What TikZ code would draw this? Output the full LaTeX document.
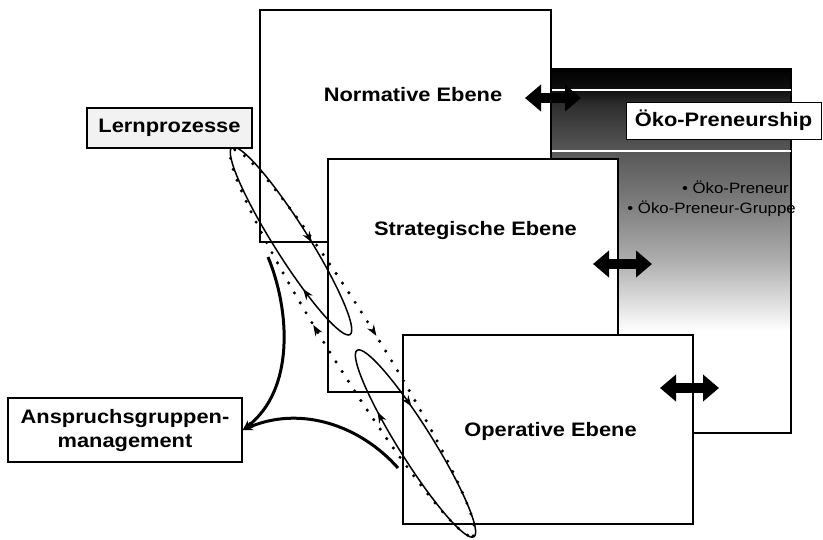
\documentclass[tikz,border=0pt]{standalone}
\usepackage{fontspec}
\setmainfont{Liberation Sans}[FakeStretch=1.12]
\usetikzlibrary{arrows.meta,decorations.markings}
\pgfdeclareverticalshading{panelshade}{100bp}{color(0bp)=(white); color(39bp)=(white); color(48.7bp)=(black!32); color(56.9bp)=(black!52); color(63.8bp)=(black!66); color(70bp)=(black!82); color(72bp)=(black!94); color(75bp)=(black); color(100bp)=(black)}
\tikzset{
  levelbox/.style={draw=black, fill=white, line width=1.4pt},
  lvltext/.style={font=\bfseries\fontsize{19.5}{23}\selectfont, inner sep=0pt},
  labelbox/.style={draw=black, line width=1.4pt, font=\bfseries\fontsize{19.5}{24}\selectfont, inner sep=0pt, align=center},
  bullettext/.style={font=\fontsize{15}{18}\selectfont, inner sep=0pt},
  dblarrow/.style={line width=10pt, {Triangle[length=16pt,width=26pt]}-{Triangle[length=16pt,width=26pt]}},
  ellipseline/.style={line width=1.5pt},
  dotring/.style={line width=3.4pt, line cap=round, dash pattern=on 0pt off 11.5pt},
  thickcurve/.style={line width=3pt, -{Stealth[length=10pt,width=9pt]}},
  looptip/.style={solid, line width=1pt},
}
\newcommand{\ltip}{Stealth[length=11pt,width=8pt]}
\begin{document}
\begin{tikzpicture}[x=1pt,y=-1pt]
\useasboundingbox (0,0) rectangle (823,539);
% background panel
\shade[shading=panelshade] (545,68) rectangle (791,433);
\draw[line width=1.4pt] (791,68) -- (791,433) -- (545,433);
\draw[white, line width=1.2pt] (551,90) -- (791,90);
\draw[white, line width=1.2pt] (551,151) -- (791,151);
\node[draw=black, fill=white, line width=1pt, minimum width=195pt, minimum height=37pt, inner sep=0pt,
      font=\bfseries\fontsize{19.5}{23}\selectfont] (oeko) at (723.5,120.5) {Öko-Preneurship};
\node[bullettext, anchor=base east] (b1) at (789,193) {• Öko-Preneur};
\node[bullettext, anchor=base east] (b2) at (796,213) {• Öko-Preneur-Gruppe};
% level boxes
\draw[levelbox] (260,10) rectangle (551,242);
\node[lvltext, anchor=base] (normtext) at (413,101) {Normative Ebene};
\draw[levelbox] (328,159) rectangle (618,392);
\node[lvltext, anchor=base] (strattext) at (475.5,235) {Strategische Ebene};
\draw[levelbox] (403,335) rectangle (693,524);
\node[lvltext, anchor=base] (opertext) at (550.5,436) {Operative Ebene};
% double arrows
\coordinate (n1) at (525,98); \coordinate (n2) at (581,98);
\coordinate (s1) at (593,264); \coordinate (s2) at (652,264);
\coordinate (o1) at (660,388); \coordinate (o2) at (719,388);
\draw[dblarrow] (n1) -- (n2);
\draw[dblarrow] (s1) -- (s2);
\draw[dblarrow] (o1) -- (o2);
% learning loops
\draw[ellipseline, rotate around={-57.75:(291,241)}, postaction={decorate},
  decoration={markings,
    mark=at position 0.223 with {\arrowreversed[looptip]{\ltip}},
    mark=at position 0.853 with {\arrowreversed[looptip]{\ltip}}}]
  (291,241) ellipse [x radius=110.6pt, y radius=17pt];
\draw[ellipseline, rotate around={-57.96:(415.5,443.5)}, postaction={decorate},
  decoration={markings,
    mark=at position 0.324 with {\arrowreversed[looptip]{\ltip}},
    mark=at position 0.647 with {\arrowreversed[looptip]{\ltip}}}]
  (415.5,443.5) ellipse [x radius=110pt, y radius=17pt];
\draw[dotring, rotate around={-58:(352.5,343)}, postaction={decorate},
  decoration={markings,
    mark=at position 0.243 with {\arrowreversed[looptip]{\ltip}},
    mark=at position 0.711 with {\arrowreversed[looptip]{\ltip}}}]
  (352.5,343) ellipse [x radius=227.5pt, y radius=24pt];
% label boxes
\node[labelbox, fill=black!5, minimum width=165pt, minimum height=40pt] (lern) at (169.5,128) {Lernprozesse};
\node[labelbox, fill=white, minimum width=234pt, minimum height=64pt] (anspr) at (125,430) {Anspruchsgruppen-\\management};
% stakeholder curves
\coordinate (c1) at (268,257);
\coordinate (c2) at (398,468);
\draw[thickcurve] (c1) .. controls (290,310) and (295,390) .. (anspr.east);
\draw[thickcurve] (c2) .. controls (360,425) and (300,405) .. (anspr.east);
\end{tikzpicture}
\end{document}
